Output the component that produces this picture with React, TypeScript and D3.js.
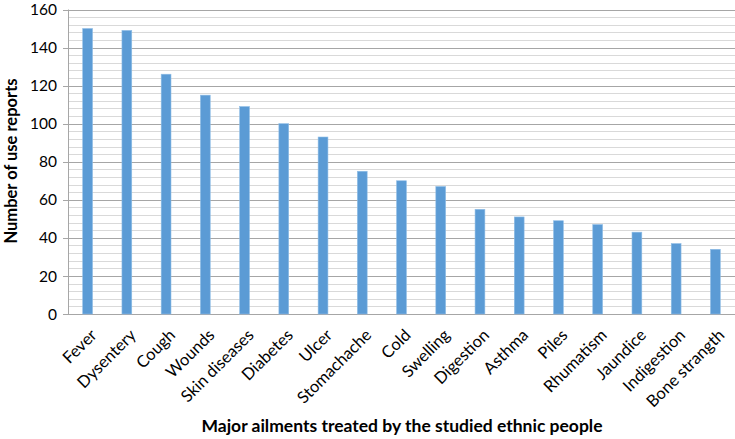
import React from "react";
import * as d3 from "d3";

const categories = ["Fever","Dysentery","Cough","Wounds","Skin diseases","Diabetes","Ulcer","Stomachache","Cold","Swelling","Digestion","Asthma","Piles","Rhumatism","Jaundice","Indigestion","Bone strangth"];
const values = [150,149,126,115,109,100,93,75,70,67,55,51,49,47,43,37,34];
const majorTicks = [0,20,40,60,80,100,120,140,160];
const minorStep = 4;
const yTitle = "Number of use reports";
const xTitle = "Major ailments treated by the studied ethnic people";

export default function App() {
  const W = 735, H = 439;
  const left = 68, right = 735, top = 9.5, bottom = 314;
  const x = d3.scaleBand<string>().domain(categories).range([left, right]).paddingInner(0).paddingOuter(0);
  const y = d3.scaleLinear().domain([0, 160]).range([bottom, top]);
  const minor = d3.range(0, 161, minorStep).filter(v => v % 20 !== 0);
  const barW = 9.8;
  const font = "Lato, sans-serif";
  return (
    <svg width={W} height={H} style={{ position: "absolute", left: 0, top: 0, background: "#fff" }} fontFamily={font}>
      {minor.map(v => (
        <line key={"m" + v} x1={left} x2={right} y1={Math.round(y(v)) + 0.5} y2={Math.round(y(v)) + 0.5} stroke="#d9d9d9" strokeWidth={1} />
      ))}
      {majorTicks.map(v => (
        <g key={"M" + v}>
          <line x1={left - 5} x2={right} y1={Math.round(y(v)) + 0.5} y2={Math.round(y(v)) + 0.5} stroke="#a6a6a6" strokeWidth={1} />
          <text x={57} y={y(v)} dy="0.36em" textAnchor="end" fontSize={15.5} fill="#000">{v}</text>
        </g>
      ))}
      <line x1={left + 0.5} x2={left + 0.5} y1={top} y2={bottom} stroke="#a6a6a6" />
      {categories.map((c, i) => {
        const cx = (x(c) as number) + x.bandwidth() / 2;
        return (
          <g key={c}>
            <rect x={cx - barW / 2} y={y(values[i])} width={barW} height={bottom - y(values[i])} fill="#5b9bd5" stroke="#8fbde6" strokeWidth={0.6} />
            <text transform={`translate(${cx + 2},${328}) rotate(-45)`} textAnchor="end" dy="0.7em" fontSize={16.5} fill="#000">{c}</text>
          </g>
        );
      })}
      <text transform={`translate(17,${161}) rotate(-90)`} textAnchor="middle" fontSize={16.5} fontWeight="bold" fill="#000">{yTitle}</text>
      <text x={402} y={432} textAnchor="middle" fontSize={17.5} fontWeight="bold" fill="#000">{xTitle}</text>
    </svg>
  );
}
